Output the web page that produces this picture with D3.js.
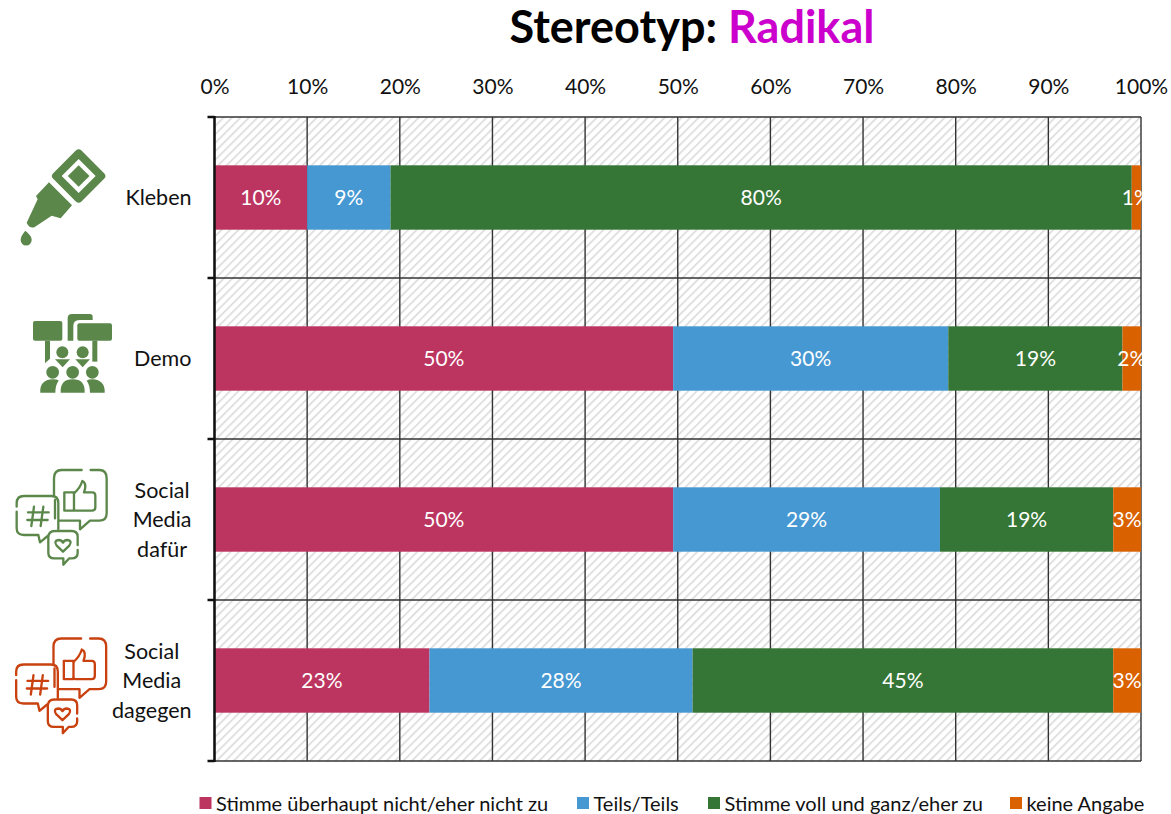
<!DOCTYPE html>
<html>
<head>
<meta charset="utf-8">
<script src="https://cdn.jsdelivr.net/npm/d3@7"></script>
<style>
	html, body { margin: 0; padding: 0; background: #fff; }
	svg { display: block; }
	text { font-family: Lato, "Open Sans", sans-serif; fill: #111; }
</style>
</head>
<body>
<div id="container"></div>
<script>
(function () {
	// data
	var categories = ["Kleben", "Demo", "Social Media dafür", "Social Media dagegen"];
	var seriesNames = ["Stimme überhaupt nicht/eher nicht zu", "Teils/Teils", "Stimme voll und ganz/eher zu", "keine Angabe"];
	var seriesColors = ["#bc3560", "#4698d2", "#357535", "#d96100"];
	var disagree = [10.0, 49.5, 49.5, 23.2];
	var neutral = [9.0, 29.7, 28.8, 28.4];
	var agree = [80.0, 18.8, 18.7, 45.4];
	var noAnswer = [1.0, 2.0, 3.0, 3.0];
	var xTicks = [0, 10, 20, 30, 40, 50, 60, 70, 80, 90, 100];
	var values = [disagree, neutral, agree, noAnswer];

	var W = 1171, H = 814;
	var margin = {top: 117, right: 30, bottom: 53, left: 214.5},
		width = W - margin.left - margin.right,
		height = H - margin.top - margin.bottom;

	var svg = d3.select("#container").append("svg")
		.attr("width", W)
		.attr("height", H);

	// scales
	var xScale = d3.scaleLinear().domain([0, 100]).range([0, width]);
	var yScale = d3.scaleBand().domain(categories).range([0, height]).paddingInner(0).paddingOuter(0);
	var barH = yScale.bandwidth() * 0.4;

	var defs = svg.append("defs");
	var hatch = defs.append("pattern")
		.attr("id", "hatch")
		.attr("width", 6).attr("height", 6)
		.attr("patternUnits", "userSpaceOnUse")
		.attr("patternTransform", "rotate(45)");
	hatch.append("line")
		.attr("x1", 0).attr("x2", 0).attr("y1", 0).attr("y2", 6)
		.attr("stroke", "#d8d8d8").attr("stroke-width", 3);
	defs.append("clipPath").attr("id", "plotClip").append("rect")
		.attr("x", 0).attr("y", 0).attr("width", width + 1).attr("height", height);

	var plot = svg.append("g")
		.attr("transform", "translate(" + margin.left + "," + margin.top + ")");

	plot.append("rect")
		.attr("width", width).attr("height", height)
		.attr("fill", "url(#hatch)");

	// grid
	plot.selectAll(".gridx").data(xTicks).enter().append("line")
		.attr("class", "gridx")
		.attr("x1", function (d) { return xScale(d); })
		.attr("x2", function (d) { return xScale(d); })
		.attr("y1", 0).attr("y2", height)
		.attr("stroke", "#333").attr("stroke-width", 1.4);
	var bandEdges = categories.map(function (d) { return yScale(d); }).concat([height]);
	plot.selectAll(".gridy").data(bandEdges).enter().append("line")
		.attr("class", "gridy")
		.attr("x1", 0).attr("x2", width)
		.attr("y1", function (d) { return d; })
		.attr("y2", function (d) { return d; })
		.attr("stroke", "#333").attr("stroke-width", 1.4);

	// stacked bars
	var rows = categories.map(function (c, i) {
		var row = {category: c};
		seriesNames.forEach(function (s, j) { row[s] = values[j][i]; });
		return row;
	});
	var stacked = d3.stack().keys(seriesNames)(rows);

	var layers = plot.selectAll(".layer").data(stacked).enter().append("g")
		.attr("class", "layer")
		.attr("clip-path", "url(#plotClip)");
	layers.each(function (s, j) {
		var g = d3.select(this);
		g.selectAll("rect").data(s).enter().append("rect")
			.attr("x", function (d) { return xScale(d[0]); })
			.attr("width", function (d) { return xScale(d[1]) - xScale(d[0]); })
			.attr("y", function (d) { return yScale(d.data.category) + (yScale.bandwidth() - barH) / 2; })
			.attr("height", barH)
			.attr("fill", seriesColors[j]);
	});
	layers.each(function (s) {
		d3.select(this).selectAll("text").data(s).enter().append("text")
			.attr("x", function (d) { return xScale((d[0] + d[1]) / 2); })
			.attr("y", function (d) { return yScale(d.data.category) + yScale.bandwidth() / 2; })
			.attr("dy", "0.35em")
			.attr("text-anchor", "middle")
			.style("font-size", "21px")
			.style("fill", "#fff")
			.text(function (d) { return Math.round(d[1] - d[0]) + "%"; });
	});

	// top axis
	var xAxis = d3.axisTop(xScale)
		.tickValues(xTicks)
		.tickSize(0)
		.tickPadding(23)
		.tickFormat(function (d) { return d + "%"; });
	var xg = plot.append("g").call(xAxis);
	xg.select(".domain").remove();
	xg.selectAll("text").style("font-size", "21px").style("font-family", "Lato").style("fill", "#111");

	// left axis, ticks sit on the band edges
	plot.append("line")
		.attr("y1", -1).attr("y2", height + 1)
		.attr("stroke", "#111").attr("stroke-width", 2.5);
	plot.selectAll(".ytick").data(bandEdges).enter().append("line")
		.attr("class", "ytick")
		.attr("x1", -7).attr("x2", 0)
		.attr("y1", function (d) { return d; })
		.attr("y2", function (d) { return d; })
		.attr("stroke", "#111").attr("stroke-width", 2.5);

	// category labels, broken over lines and centred on the widest one
	var catLines = {
		"Kleben": ["Kleben"],
		"Demo": ["Demo"],
		"Social Media dafür": ["Social", "Media", "dafür"],
		"Social Media dagegen": ["Social", "Media", "dagegen"]
	};
	categories.forEach(function (c) {
		var lines = catLines[c];
		var t = plot.append("text").style("font-size", "21.5px").attr("text-anchor", "middle");
		var cy = yScale(c) + yScale.bandwidth() / 2;
		lines.forEach(function (l, k) {
			t.append("tspan").attr("x", 0)
				.attr("y", cy + (k - (lines.length - 1) / 2) * 29.5)
				.attr("dy", "0.35em")
				.text(l);
		});
		var w = d3.max(t.selectAll("tspan").nodes(), function (n) { return n.getComputedTextLength(); });
		t.selectAll("tspan").attr("x", -23 - w / 2);
	});

	// title
	var title = svg.append("text")
		.attr("x", 692).attr("y", 43)
		.attr("text-anchor", "middle")
		.style("font-size", "45px")
		.style("font-weight", "700");
	title.append("tspan").style("fill", "#000").text("Stereotyp: ");
	title.append("tspan").style("fill", "#cc00cc").text("Radikal");

	// legend
	var legendX = [199.5, 577, 708, 1010];
	var legend = svg.selectAll(".legend").data(seriesNames).enter().append("g")
		.attr("class", "legend")
		.attr("transform", function (d, i) { return "translate(" + legendX[i] + ",797)"; });
	legend.append("rect")
		.attr("width", 12).attr("height", 12)
		.attr("fill", function (d, i) { return seriesColors[i]; });
	legend.append("text")
		.attr("x", 16.5).attr("y", 6.5).attr("dy", "0.35em")
		.style("font-size", "20px")
		.text(function (d) { return d; });

	// icons, coordinates taken at 3x
	function iconGroup(ox, oy) {
		return svg.append("g").attr("transform", "translate(" + ox + "," + oy + ") scale(0.3333)");
	}

	var green = "#5b874b", red = "#c8410f";

	// glue bottle
	var glue = iconGroup(0, 110);
	glue.append("rect").attr("x", -60).attr("y", -60).attr("width", 120).attr("height", 120).attr("rx", 12)
		.attr("transform", "translate(236,198) rotate(45)").attr("fill", green);
	glue.append("rect").attr("x", -36).attr("y", -36).attr("width", 72).attr("height", 72)
		.attr("transform", "translate(236,198) rotate(45)").attr("fill", "#fff");
	glue.append("rect").attr("x", -23).attr("y", -23).attr("width", 46).attr("height", 46)
		.attr("transform", "translate(236,198) rotate(45)").attr("fill", green);
	glue.append("path")
		.attr("d", "M147,217L216,286L182,325L155,317L103,352Q88,356 80,338L113,268L108,258Z")
		.attr("fill", green);
	glue.append("path")
		.attr("d", "M76,362Q96,378 95,390A16,16 0 0 1 62,390Q62,378 76,362Z")
		.attr("fill", green);

	// demo
	var demo = iconGroup(0, 290);
	[[99, 93, 88, 59], [232, 100, 104, 52]].forEach(function (r) {
		demo.append("rect").attr("x", r[0]).attr("y", r[1]).attr("width", r[2]).attr("height", r[3]).attr("rx", 6).attr("fill", green);
	});
	demo.append("path").attr("d", "M135,152H150V206L135,220Z").attr("fill", green);
	demo.append("path").attr("d", "M277,152H292V215H277Z").attr("fill", green);
	demo.append("path").attr("d", "M203,152V85Q203,72 216,72H270Q278,72 278,80V90H238Q220,90 220,108V152Z").attr("fill", green);
	[[187, 187, 18], [248, 187, 18], [158, 247, 19], [218, 247, 19], [277, 247, 19]].forEach(function (c) {
		demo.append("circle").attr("cx", c[0]).attr("cy", c[1]).attr("r", c[2]).attr("fill", green);
	});
	demo.append("path").attr("d", "M165,208H210L188,232Z").attr("fill", green);
	demo.append("path").attr("d", "M226,208H270L248,232Z").attr("fill", green);
	demo.append("path").attr("d", "M182,308Q180,268 218,268Q256,268 254,308Z").attr("fill", green);
	demo.append("path").attr("d", "M121,308Q118,270 158,268Q172,268 176,272Q166,285 166,308Z").attr("fill", green);
	demo.append("path").attr("d", "M314,308Q316,270 277,268Q265,268 260,272Q270,285 270,308Z").attr("fill", green);

	// social media bubbles
	function socialIcon(ox, oy, color) {
		var g = iconGroup(ox, oy)
			.attr("fill", "none").attr("stroke", color)
			.attr("stroke-width", 7).attr("stroke-linecap", "round").attr("stroke-linejoin", "round");
		g.append("path").attr("d", "M245,60H185Q162,60 162,85V135M178,212H240V238L270,212H298Q320,212 320,190V85Q320,60 298,60H272M165,150V205");
		g.append("path").attr("d", "M50,170V160Q50,138 72,138H155Q175,138 175,160V238M50,185V235Q50,255 72,255H115L120,277L143,258");
		g.append("path").attr("d", "M170,243H215Q233,243 233,260V285M233,300V308Q233,325 215,325H208L190,344V325H163Q145,325 145,308V262Q145,243 165,243");
		g.append("path").attr("d", "M193,127H222V182H193Z");
		g.append("path").attr("d", "M222,130Q240,115 247,93Q262,100 252,127H277Q286,127 286,137V172Q286,182 276,182H228Q222,182 222,178");
		g.append("path").attr("d", "M102,170L94,228M130,170L122,228M84,187H146M82,210H143");
		g.append("path").attr("d", "M189,305L170,287Q160,272 176,270Q185,270 189,278Q193,270 202,270Q218,272 208,287Z");
	}
	socialIcon(0, 450, green);
	socialIcon(-0.5, 618.5, red);
})();
</script>
</body>
</html>
